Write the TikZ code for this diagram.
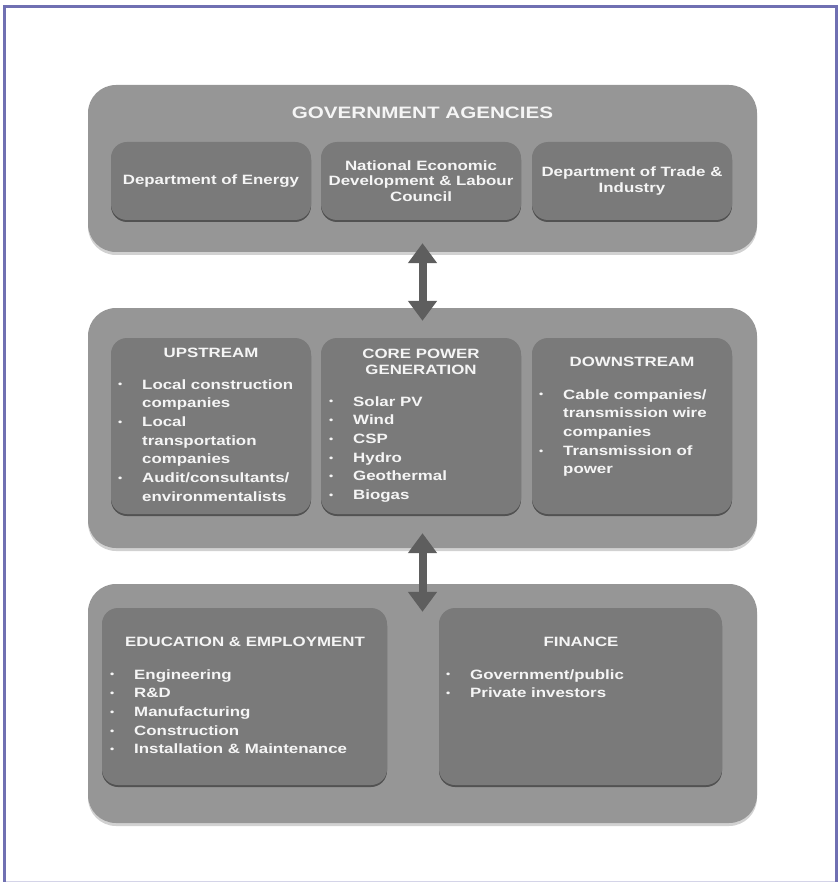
\documentclass[tikz,border=0pt]{standalone}
\usepackage{fontspec}
\setmainfont{Liberation Sans}[FakeStretch=1.25]
\usetikzlibrary{arrows.meta,shadows}

\definecolor{framec}{RGB}{112,112,178}
\definecolor{outerfill}{RGB}{150,150,150}
\definecolor{innerfill}{RGB}{122,122,122}
\definecolor{labelc}{RGB}{245,245,245}
\definecolor{arrowc}{RGB}{94,94,94}

% fonts: big heading, box headings, bullet lists
\newcommand{\headfont}{\fontsize{16.5}{18}\selectfont\bfseries}
\newcommand{\titlefont}{\fontsize{13.5}{15.5}\selectfont\bfseries}
\newcommand{\bodyfont}{\fontsize{13.5}{18.7}\selectfont\bfseries}
% bullet and hanging indent for list lines
\newcommand{\blt}{\makebox[24pt][l]{\raisebox{1.1pt}{\fontsize{9.5}{9.5}\selectfont\textbullet}}}
\newcommand{\hng}{\hspace*{24pt}}

\tikzset{
  outerbox/.style={fill=outerfill, rounded corners=28pt, inner sep=0pt,
    drop shadow={shadow xshift=0pt, shadow yshift=-3pt, opacity=.18, fill=black}},
  innerbox/.style={fill=innerfill, rounded corners=16pt, inner sep=0pt,
    drop shadow={shadow xshift=0pt, shadow yshift=-2pt, opacity=.45, fill=black}},
  boxlabel/.style={text=labelc, inner sep=0pt, align=center, font=\titlefont},
  bulletlist/.style={text=labelc, inner sep=0pt, anchor=base west, font=\bodyfont},
  linkarrow/.style={draw=arrowc, line width=8pt,
    {Triangle[width=28pt,length=20pt]}-{Triangle[width=28pt,length=20pt]}},
}

\begin{document}
\begin{tikzpicture}[x=1pt, y=-1pt]
\useasboundingbox (0,0) rectangle (838,882);

% page frame
\draw[framec!30, line width=1pt] (4.5,881) -- (836.5,881);
\draw[framec, line width=3pt] (4.5,882) -- (4.5,7) -- (836.5,7) -- (836.5,882);

% three outer panels
\node[outerbox, minimum width=669pt, minimum height=167pt] (gov)   at (422.5,168.5) {};
\node[outerbox, minimum width=669pt, minimum height=240pt] (chain) at (422.5,428) {};
\node[outerbox, minimum width=669pt, minimum height=239pt] (base)  at (422.5,703.5) {};

% government agencies
\node[boxlabel, font=\headfont] (t-gov) at (422.5,113) {GOVERNMENT AGENCIES};
\node[innerbox, minimum width=200pt, minimum height=78pt] (doe)    at (211,181) {};
\node[innerbox, minimum width=200pt, minimum height=78pt] (nedlac) at (421,181) {};
\node[innerbox, minimum width=200pt, minimum height=78pt] (dti)    at (632,181) {};
\node[boxlabel] (t-doe)    at (doe)    {Department of Energy};
\node[boxlabel] (t-nedlac) at (nedlac) {National Economic\\Development \& Labour\\Council};
\node[boxlabel] (t-dti)    at (dti)    {Department of Trade \&\\Industry};

% value chain
\node[innerbox, minimum width=200pt, minimum height=176pt] (up)   at (211,426) {};
\node[innerbox, minimum width=200pt, minimum height=176pt] (core) at (421,426) {};
\node[innerbox, minimum width=200pt, minimum height=176pt] (down) at (632,426) {};
\node[boxlabel] (t-up)   at (211,353) {UPSTREAM};
\node[boxlabel] (t-core) at (421,362) {CORE POWER\\GENERATION};
\node[boxlabel] (t-down) at (632,362) {DOWNSTREAM};
\node[bulletlist] (l-up) at (118,389) {\begin{tabular}[t]{@{}l@{}}
  \blt Local construction\\ \hng companies\\
  \blt Local\\ \hng transportation\\ \hng companies\\
  \blt Audit/consultants/\\ \hng environmentalists
\end{tabular}};
\node[bulletlist] (l-core) at (329,406) {\begin{tabular}[t]{@{}l@{}}
  \blt Solar PV\\ \blt Wind\\ \blt CSP\\ \blt Hydro\\ \blt Geothermal\\ \blt Biogas
\end{tabular}};
\node[bulletlist] (l-down) at (539,399) {\begin{tabular}[t]{@{}l@{}}
  \blt Cable companies/\\ \hng transmission wire\\ \hng companies\\
  \blt Transmission of\\ \hng power
\end{tabular}};

% education and finance
\node[innerbox, minimum width=285pt, minimum height=177pt] (edu) at (244.5,696.5) {};
\node[innerbox, minimum width=283pt, minimum height=177pt] (fin) at (580.5,696.5) {};
\node[boxlabel] (t-edu) at (245,642) {EDUCATION \& EMPLOYMENT};
\node[boxlabel] (t-fin) at (581,642) {FINANCE};
\node[bulletlist] (l-edu) at (110,679) {\begin{tabular}[t]{@{}l@{}}
  \blt Engineering\\ \blt R\&D\\ \blt Manufacturing\\ \blt Construction\\
  \blt Installation \& Maintenance
\end{tabular}};
\node[bulletlist] (l-fin) at (446,679) {\begin{tabular}[t]{@{}l@{}}
  \blt Government/public\\ \blt Private investors
\end{tabular}};

% two-way links between the panels
\draw[linkarrow, shorten <=-9pt, shorten >=-13pt] (gov.south) -- (chain.north);
\draw[linkarrow, shorten <=-15pt, shorten >=-28pt] (chain.south) -- (base.north);
\end{tikzpicture}
\end{document}
